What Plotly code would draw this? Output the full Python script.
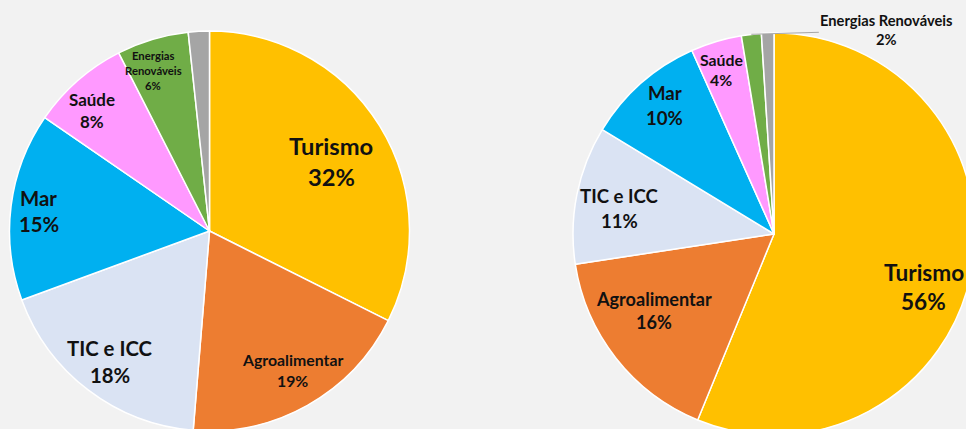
import math
import plotly.graph_objects as go

# ---- data ----
categories = ["Turismo", "Agroalimentar", "TIC e ICC", "Mar", "Saúde", "Energias Renováveis", "Outros"]
share_left = [32.4, 18.9, 18.1, 15.2, 7.9, 5.8, 1.7]
share_right = [56.2, 16.4, 11.1, 9.6, 4.1, 1.6, 1.0]
label_lines_left = [["Turismo"], ["Agroalimentar"], ["TIC e ICC"], ["Mar"], ["Saúde"], ["Energias", "Renováveis"], None]
label_lines_right = [["Turismo"], ["Agroalimentar"], ["TIC e ICC"], ["Mar"], ["Saúde"], ["Energias Renováveis"], None]

# ---- style ----
colors = ["#FFC000", "#ED7D31", "#DAE3F3", "#00B0F0", "#FF99FF", "#70AD47", "#A5A5A5"]
BG = "#F2F2F2"
FONT = "Lato"
FSCALE = 1.13
W, H = 980, 440

# pie boxes in pixels: (x0, x1, y0_top, y1_bottom)
box_left = (9.5, 409.5, 31, 431)
box_right = (573, 975, 33, 435)

# per-label style: base size (line gap basis), radial fraction, angle nudge (deg)
style_left = [(21, 0.70, 2), (14, 0.81, -1.4), (18, 0.82, 0), (18, 0.86, -0.5), (15, 0.84, -3), (10, 0.85, -2.7)]
style_right = [(20, 0.79, 8.4), (16, 0.71, 5.7), (16.5, 0.78, -2), (16.5, 0.84, 1), (14, 0.86, -1), (13, None, 0)]


def dom(box):
    x0, x1, yt, yb = box
    return dict(x=[x0 / W, x1 / W], y=[1 - yb / H, 1 - yt / H])


fig = go.Figure()
for vals, box in [(share_left, box_left), (share_right, box_right)]:
    fig.add_trace(go.Pie(
        labels=categories, values=vals, sort=False, direction="clockwise", rotation=0,
        marker=dict(colors=colors, line=dict(color="white", width=1.5)),
        textinfo="none", hoverinfo="label+percent", showlegend=False,
        domain=dom(box),
    ))

annotations = []


def add_labels(vals, lines_list, styles, box):
    x0, x1, yt, yb = box
    cx, cy = (x0 + x1) / 2, (yt + yb) / 2
    R = (x1 - x0) / 2
    total = sum(vals)
    cum = 0
    for i, v in enumerate(vals):
        mid = (cum + v / 2) / total * 360
        cum += v
        lines = lines_list[i]
        if lines is None:
            continue
        pct = f"{round(v / total * 100)}%"
        allines = lines + [pct]
        size, rf, dth = styles[i]
        fsize = size * FSCALE
        if rf is None:
            # outside label with leader line
            th = math.radians(mid)
            tipx, tipy = cx + R * math.sin(th), cy - R * math.cos(th)
            tx, ty = tipx + 135, tipy - 4
            annotations.append(dict(
                x=tipx / W, y=1 - tipy / H, xref="paper", yref="paper",
                ax=tx - tipx, ay=ty - tipy, showarrow=True, arrowhead=0, arrowwidth=1,
                arrowcolor="#A6A6A6", text="<b>" + "<br>".join(allines) + "</b>",
                font=dict(family=FONT, size=fsize, color="#111111"), align="center",
            ))
            continue
        th = math.radians(mid + dth)
        px = cx + rf * R * math.sin(th)
        py = cy - rf * R * math.cos(th)
        gap = size * 1.47
        n = len(allines)
        for k, t in enumerate(allines):
            ly = py + (k - (n - 1) / 2) * gap
            annotations.append(dict(
                x=px / W, y=1 - ly / H, xref="paper", yref="paper", showarrow=False,
                xanchor="center", yanchor="middle", text=f"<b>{t}</b>",
                font=dict(family=FONT, size=fsize, color="#111111"),
            ))


add_labels(share_left, label_lines_left, style_left, box_left)
add_labels(share_right, label_lines_right, style_right, box_right)

fig.update_layout(
    width=W, height=H, margin=dict(l=0, r=0, t=0, b=0),
    paper_bgcolor=BG, plot_bgcolor=BG, annotations=annotations,
)

fig.write_html(
    "out.html",
    config={"displayModeBar": False},
    post_script="document.body.style.margin='0';document.body.style.overflow='hidden';document.body.style.background='#F2F2F2';",
)
